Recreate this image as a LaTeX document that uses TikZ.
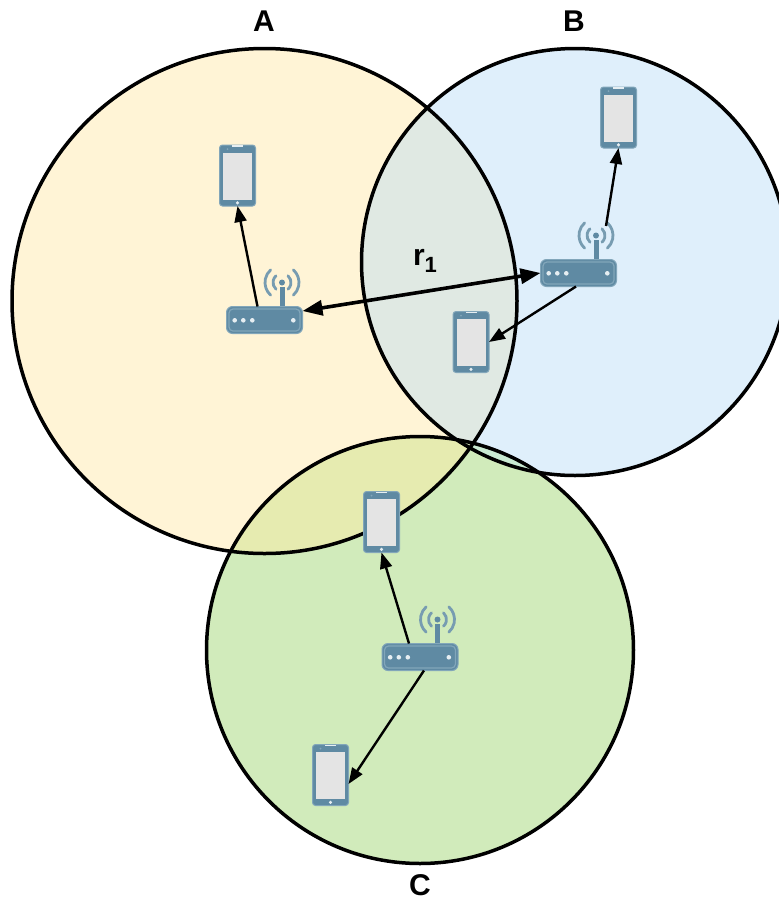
\documentclass[tikz,border=0pt]{standalone}
\usepackage{fontspec}
\setmainfont{Liberation Sans}
\usetikzlibrary{arrows.meta}
\definecolor{fa}{HTML}{FFF4D6}
\definecolor{fb}{HTML}{DFEFFB}
\definecolor{fc}{HTML}{D1EBBB}
\definecolor{fab}{HTML}{E0E9E3}
\definecolor{fac}{HTML}{E6EBB0}
\definecolor{fbc}{HTML}{C9EAD2}
\definecolor{fabc}{HTML}{C8D8B0}
\definecolor{dev}{HTML}{5F8AA3}
\definecolor{devl}{HTML}{82A6BA}
\definecolor{devh}{HTML}{E6EEF2}
\definecolor{scr}{HTML}{E4E4E4}
\tikzset{
  x=1pt,y=-1pt,
  ring/.style={draw=black,line width=3.5pt},
  conn/.style={draw=black,line width=2.4pt,-{Triangle[length=16pt,width=12pt]}},
  thick conn/.style={draw=black,line width=3.6pt,{Triangle[length=20pt,width=15pt]}-{Triangle[length=20pt,width=15pt]}},
  phonebox/.style={rectangle,draw=devl,fill=dev,line width=1pt,rounded corners=3pt,minimum width=36pt,minimum height=61pt,inner sep=0pt,outer sep=0pt},
  routerbox/.style={rectangle,draw=devl,fill=dev,line width=1pt,rounded corners=6pt,minimum width=76pt,minimum height=27pt,inner sep=0pt,outer sep=0pt},
  lab/.style={font=\fontsize{30}{32}\selectfont\bfseries,inner sep=0pt},
  wave/.style={draw=dev!85!white,line width=2.8pt,line cap=round},
}
\newcommand{\mobile}[3]{%
  \node[phonebox] (#1) at (#2,#3) {};
  \begin{scope}[shift={(#2,#3)}]
    \fill[scr] (-14.5,-23) rectangle (14.5,24);
    \fill[devh] (-5.5,-30.2) rectangle (5.5,-28.6);
    \fill[devh] (0,27.3) circle (1.7);
    \fill[devl] (-10,-26.3) circle (1);
  \end{scope}}
\newcommand{\router}[3]{%
  \node[routerbox] (#1) at (#2,#3) {};
  \begin{scope}[shift={(#2,#3)}]
    \draw[devl,line width=1.2pt,rounded corners=4pt] (-35.5,-11) rectangle (35.5,11);
    \foreach \dx in {-29.8,-21.2,-12.2,28.8} \fill[devh] (\dx,0.3) circle (2.3);
    \fill[dev] (15,-14) rectangle (20,-33);
    \fill[dev] (17.5,-37.5) circle (3);
    \foreach \rr in {9,17} {
      \draw[wave] (17.5,-37.5) ++(-48:\rr) arc[start angle=-48,delta angle=96,radius=\rr];
      \draw[wave] (17.5,-37.5) ++(132:\rr) arc[start angle=132,delta angle=96,radius=\rr];
    }
  \end{scope}}
\begin{document}
\begin{tikzpicture}
\useasboundingbox (0,0) rectangle (779,898);
\def\ca{(264.5,301) circle (252.5)}
\def\cb{(575,262) circle (213.5)}
\def\cc{(420,650) circle (213.5)}
\fill[fa] \ca; \fill[fb] \cb; \fill[fc] \cc;
\begin{scope}\clip \ca; \fill[fab] \cb; \fill[fac] \cc; \end{scope}
\begin{scope}\clip \cb; \fill[fbc] \cc; \begin{scope}\clip \ca; \fill[fabc] \cc; \end{scope}\end{scope}
\draw[ring] \ca; \draw[ring] \cb; \draw[ring] \cc;
\mobile{pa}{237.5}{175.5}
\mobile{pb}{618.5}{117.5}
\mobile{pd}{471}{342}
\mobile{pe}{381.5}{522}
\mobile{pf}{330.5}{775}
\router{ra}{264.5}{320}
\router{rb}{578.5}{273}
\router{rc}{420}{657}
\coordinate (rbant) at (606,226);
\draw[conn] (ra.north west) ++(31,0) -- (pa.south);
\draw[conn] (rbant) -- (pb.south);
\draw[conn] ([xshift=-2.5pt]rb.south) -- (pd.east);
\draw[conn] ([xshift=-11pt]rc.north) -- (pe.south);
\draw[conn] ([xshift=4pt]rc.south) -- ([yshift=-9pt]pf.east);
\draw[thick conn] ([yshift=9pt]ra.east) -- (rb.west);
\node[lab] (la) at (264,21) {A};
\node[lab] (lb) at (574,21) {B};
\node[lab] (lc) at (420,885) {C};
\node[lab] (lr) at (425,261) {r\raisebox{-0.22em}{\fontsize{22}{23}\selectfont 1}};
\end{tikzpicture}
\end{document}
